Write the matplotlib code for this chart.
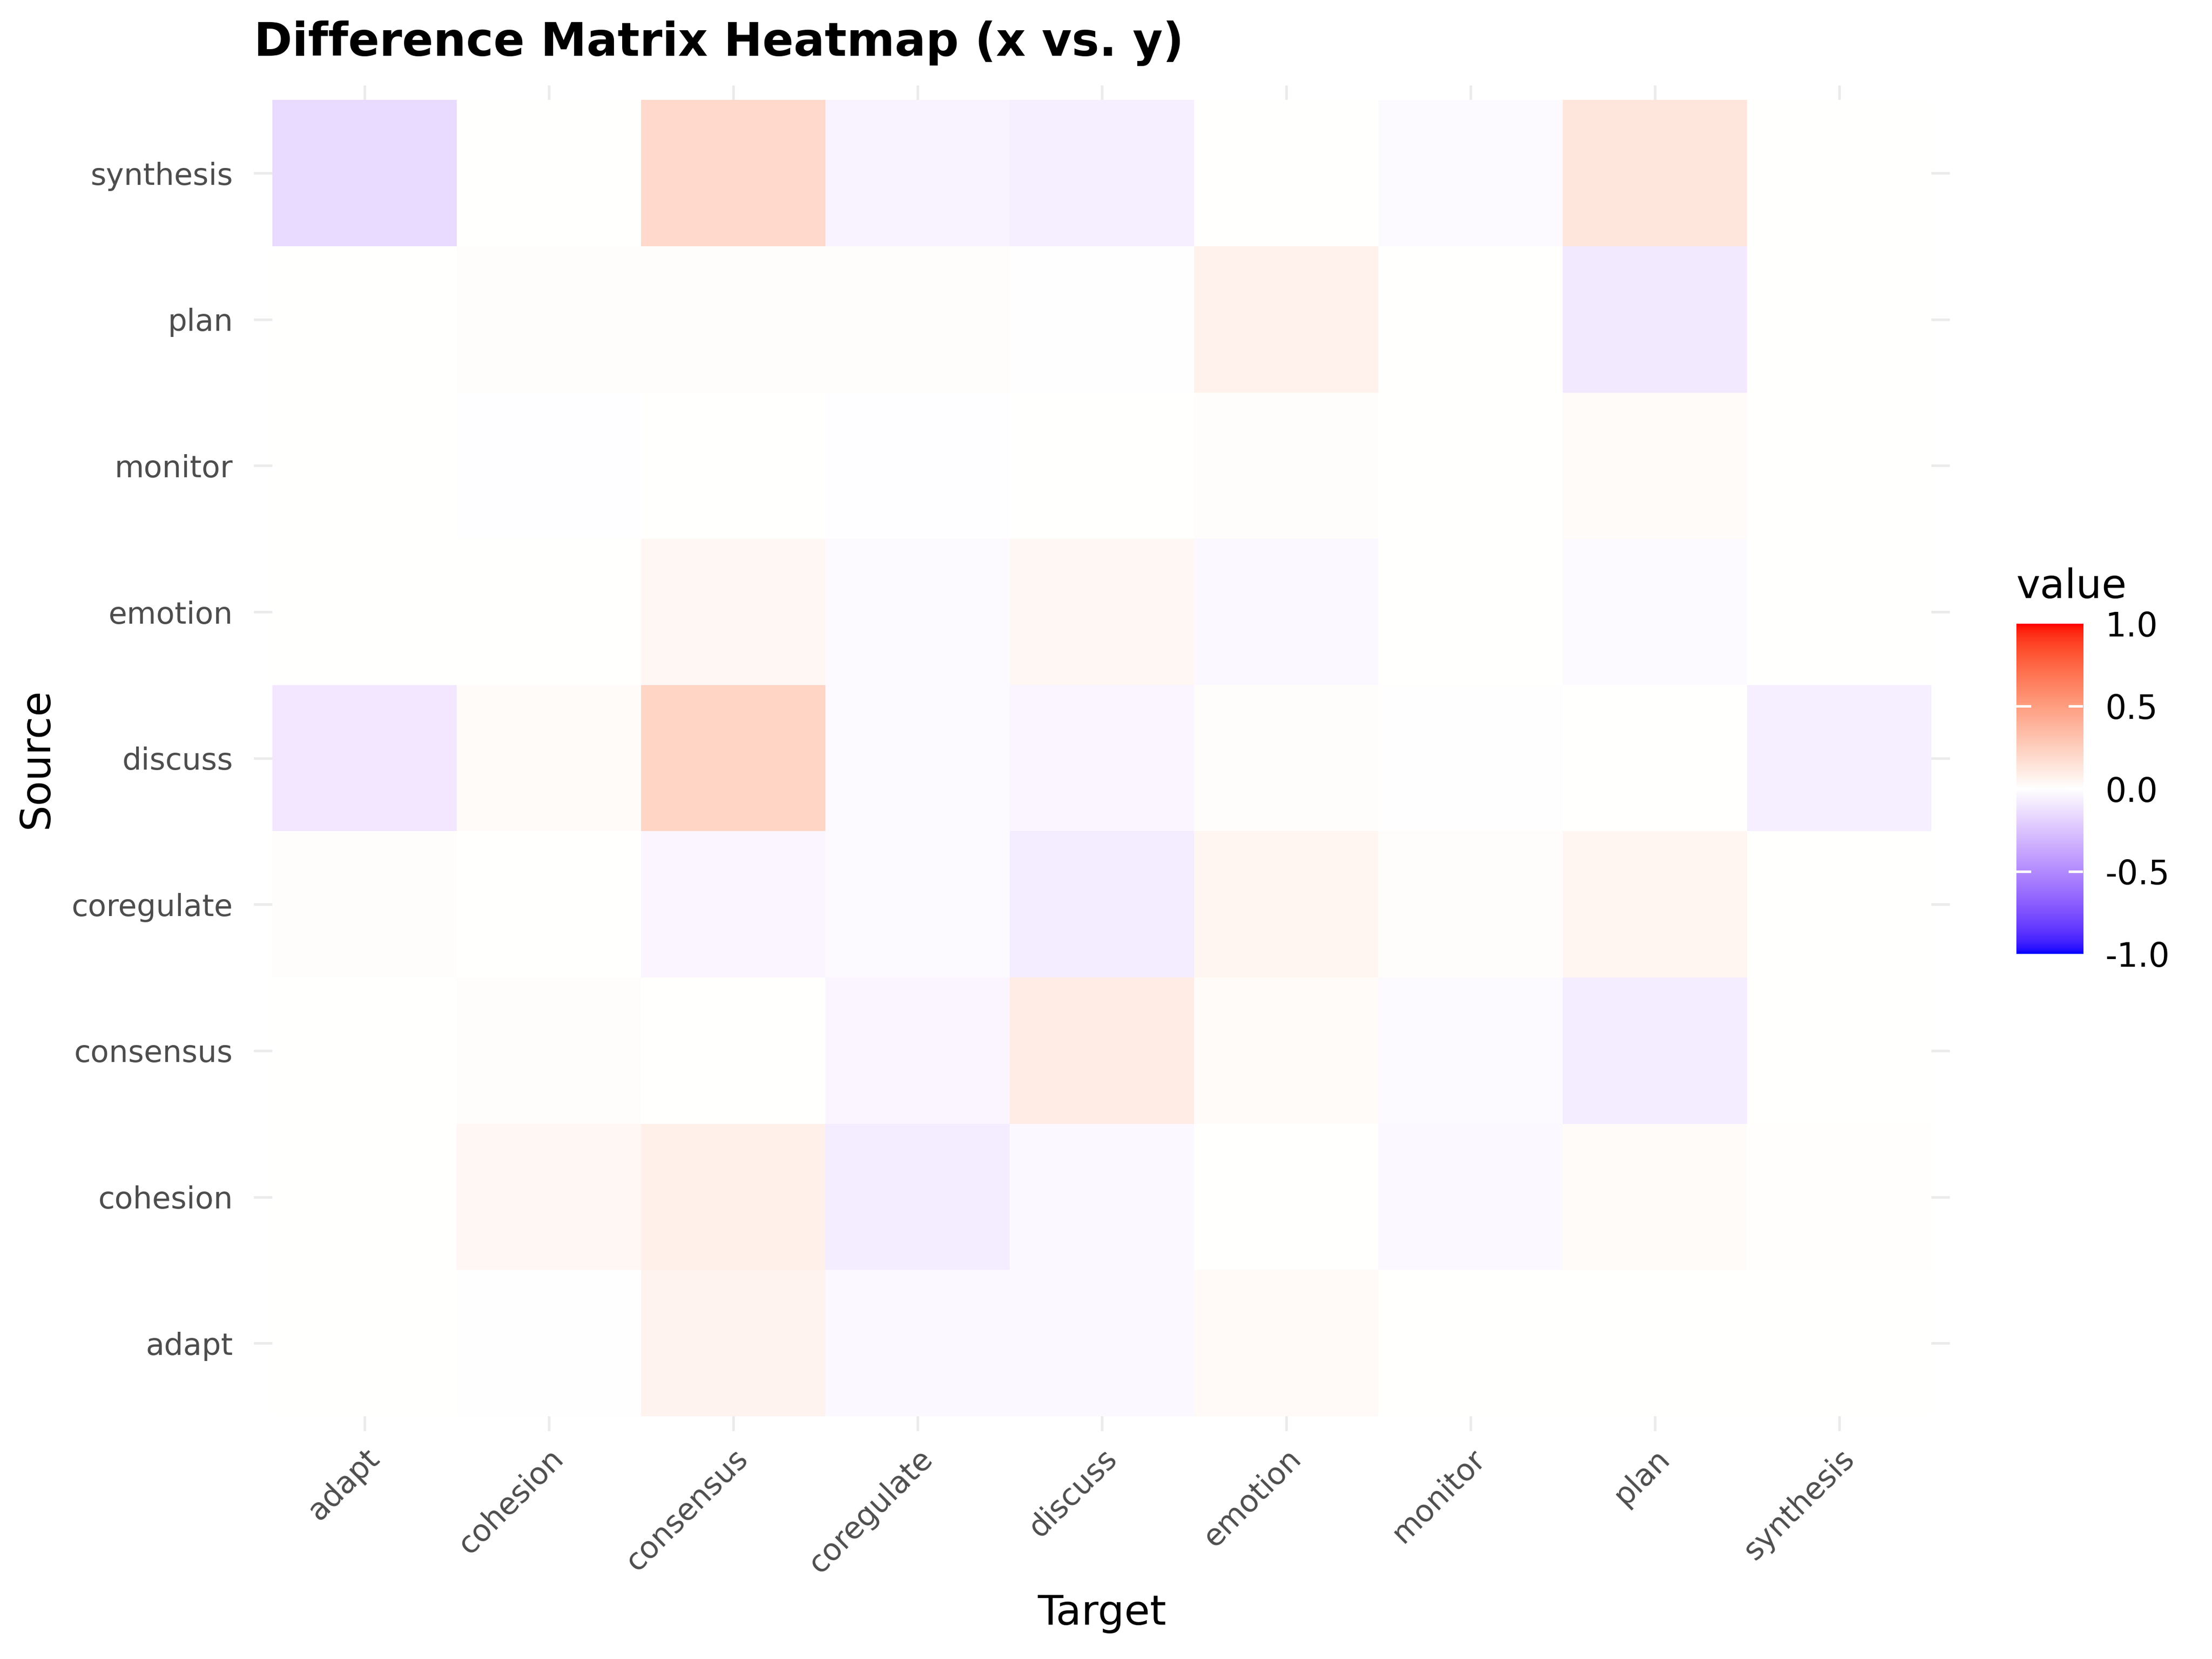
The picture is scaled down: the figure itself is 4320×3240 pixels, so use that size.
import numpy as np
import matplotlib
matplotlib.use("Agg")
import matplotlib.pyplot as plt
from matplotlib.colors import ListedColormap, Normalize

# categories (same order for source and target)
states = ["adapt", "cohesion", "consensus", "coregulate", "discuss",
          "emotion", "monitor", "plan", "synthesis"]

# difference values, one list per source row (columns = target, in states order)
src_adapt = [0.0, -0.005, 0.06, -0.03, -0.03, 0.03, 0.0, 0.0, 0.0]
src_cohesion = [0.0, 0.04, 0.08, -0.08, -0.03, 0.0, -0.03, 0.02, 0.005]
src_consensus = [0.0, 0.01, 0.0, -0.04, 0.10, 0.02, -0.02, -0.08, 0.0]
src_coregulate = [0.01, 0.0, -0.04, -0.02, -0.08, 0.05, 0.01, 0.05, 0.0]
src_discuss = [-0.10, 0.02, 0.22, -0.02, -0.04, 0.01, -0.005, 0.0, -0.07]
src_emotion = [0.0, 0.0, 0.04, -0.02, 0.04, -0.03, 0.0, -0.02, 0.0]
src_monitor = [0.0, -0.01, 0.0, -0.01, 0.0, 0.01, 0.0, 0.02, 0.0]
src_plan = [0.0, 0.01, 0.01, 0.01, -0.005, 0.07, 0.0, -0.09, 0.0]
src_synthesis = [-0.16, 0.0, 0.20, -0.05, -0.07, 0.0, -0.02, 0.13, 0.0]

legend_ticks = [-1.0, -0.5, 0.0, 0.5, 1.0]


# ggplot-like gradient2 (blue - white - red, interpolated in Lab space)
def srgb_to_lab(rgb):
    rgb = np.asarray(rgb, dtype=float)
    lin = np.where(rgb <= 0.04045, rgb / 12.92, ((rgb + 0.055) / 1.055) ** 2.4)
    m = np.array([[0.4124, 0.3576, 0.1805],
                  [0.2126, 0.7152, 0.0722],
                  [0.0193, 0.1192, 0.9505]])
    xyz = m @ lin / np.array([0.95047, 1.0, 1.08883])
    f = np.where(xyz > 0.008856, np.cbrt(xyz), 7.787 * xyz + 16 / 116)
    return np.array([116 * f[1] - 16, 500 * (f[0] - f[1]), 200 * (f[1] - f[2])])


def lab_to_srgb(lab):
    L, a, b = lab
    fy = (L + 16) / 116
    fx = fy + a / 500
    fz = fy - b / 200
    f = np.array([fx, fy, fz])
    xyz = np.where(f ** 3 > 0.008856, f ** 3, (f - 16 / 116) / 7.787)
    xyz = xyz * np.array([0.95047, 1.0, 1.08883])
    minv = np.array([[3.2406, -1.5372, -0.4986],
                     [-0.9689, 1.8758, 0.0415],
                     [0.0557, -0.2040, 1.0570]])
    lin = minv @ xyz
    lin = np.clip(lin, 0, 1)
    rgb = np.where(lin <= 0.0031308, 12.92 * lin, 1.055 * lin ** (1 / 2.4) - 0.055)
    return np.clip(rgb, 0, 1)


lab_low = srgb_to_lab([0, 0, 1])
lab_mid = srgb_to_lab([1, 1, 1])
lab_high = srgb_to_lab([1, 0, 0])
colors = []
for t in np.linspace(-1, 1, 512):
    if t < 0:
        lab = lab_mid + (lab_low - lab_mid) * (-t)
    else:
        lab = lab_mid + (lab_high - lab_mid) * t
    colors.append(lab_to_srgb(lab))
cmap = ListedColormap(colors)
norm = Normalize(vmin=-1, vmax=1)

matrix = np.array([src_adapt, src_cohesion, src_consensus, src_coregulate,
                   src_discuss, src_emotion, src_monitor, src_plan,
                   src_synthesis])

fig = plt.figure(figsize=(14.4, 10.8), dpi=300)
ax = fig.add_axes([0.1148, 0.1375, 0.7667, 0.811])

n = len(states)
pos = np.arange(n)
for p in pos:
    ax.axvline(p, color="#EBEBEB", lw=1.2, zorder=0)
    ax.axhline(p, color="#EBEBEB", lw=1.2, zorder=0)

edges = np.arange(n + 1) - 0.5
ax.pcolormesh(edges, edges, matrix, cmap=cmap, norm=norm, zorder=1)

ax.set_xlim(-0.6, n - 0.4)
ax.set_ylim(-0.6, n - 0.4)
ax.set_xticks(pos)
ax.set_yticks(pos)
ax.set_xticklabels(states, rotation=45, ha="right", rotation_mode="anchor")
ax.set_yticklabels(states)
ax.tick_params(length=0, labelsize=14.2, labelcolor="#4D4D4D")
ax.tick_params(axis="y", pad=9.8)
ax.tick_params(axis="x", pad=6)
for s in ax.spines.values():
    s.set_visible(False)

ax.set_xlabel("Target", fontsize=19.5, labelpad=7)
ax.set_ylabel("Source", fontsize=19.2, labelpad=7)
ax.set_title("Difference Matrix Heatmap (x vs. y)", fontsize=21.6,
             fontweight="bold", loc="left", x=-0.0, pad=14)

# colourbar legend
cax = fig.add_axes([0.9116, 0.425, 0.0301, 0.199])
grad = np.linspace(-1, 1, 300).reshape(-1, 1)
cax.imshow(grad, cmap=cmap, norm=norm, aspect="auto", origin="lower",
           extent=[0, 1, -1, 1])
for v in legend_ticks[1:-1]:
    cax.plot([0, 0.2], [v, v], color="white", lw=1.2)
    cax.plot([0.8, 1], [v, v], color="white", lw=1.2)
cax.set_xlim(0, 1)
cax.set_ylim(-1, 1)
cax.set_xticks([])
cax.yaxis.tick_right()
cax.set_yticks(legend_ticks)
cax.set_yticklabels([f"{v:.1f}" for v in legend_ticks])
cax.tick_params(length=0, labelsize=15.5, pad=10.5)
for s in cax.spines.values():
    s.set_visible(False)
fig.text(0.9116, 1 - 1168 / 3240, "value", fontsize=19, ha="left",
         va="baseline")

fig.savefig("out.png", dpi=300, facecolor="white")
